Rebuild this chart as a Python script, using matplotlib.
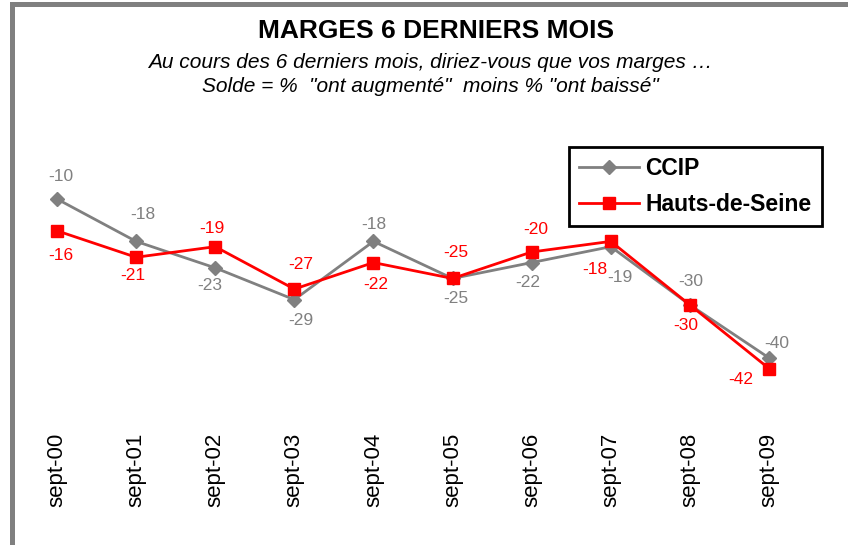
import matplotlib
matplotlib.use("Agg")
import matplotlib.pyplot as plt
from matplotlib.patches import Rectangle

# ---- data ----
mois = ["sept-00", "sept-01", "sept-02", "sept-03", "sept-04",
        "sept-05", "sept-06", "sept-07", "sept-08", "sept-09"]
ccip = [-10, -18, -23, -29, -18, -25, -22, -19, -30, -40]
hauts_de_seine = [-16, -21, -19, -27, -22, -25, -20, -18, -30, -42]

# label offsets (pixels) from each point
ccip_off = [(4, 22), (7, 27), (-5, -18), (6, -21), (0, 17),
            (3, -20), (-4, -20), (9, -31), (1, 23), (8, 14)]
hds_off = [(4, -25), (-3, -18), (-3, 18), (6, 25), (2, -22),
           (3, 26), (4, 22), (-16, -28), (-4, -21), (-28, -11)]

GREY = "#808080"
RED = "#FF0000"

plt.rcParams["font.family"] = ["Liberation Sans", "DejaVu Sans"]

W, H = 848, 545
fig = plt.figure(figsize=(W / 100, H / 100), dpi=100)

# grey frame (left + top)
fig.add_artist(Rectangle((10 / W, 0), 5 / W, 1 - 2 / H,
                         transform=fig.transFigure, color=GREY, lw=0))
fig.add_artist(Rectangle((10 / W, 1 - 7 / H), 1 - 10 / W, 5 / H,
                         transform=fig.transFigure, color=GREY, lw=0))

# axes placed so that 0 -> y=146px and -53.6 -> y=430px
ax = fig.add_axes([17.4 / W, 1 - 430 / H, 791.2 / W, (430 - 146) / H])
ax.set_xlim(-0.5, 9.5)
ax.set_ylim(-53.6, 0)

x = list(range(len(mois)))
ax.plot(x, ccip, color=GREY, lw=2, marker="D", ms=7,
        label="CCIP", zorder=3)
ax.plot(x, hauts_de_seine, color=RED, lw=2, marker="s", ms=8.5,
        label="Hauts-de-Seine", zorder=4)

for i in x:
    ax.annotate(f"{ccip[i]}", (i, ccip[i]), xytext=ccip_off[i],
                textcoords="offset pixels", ha="center", va="center",
                color=GREY, fontsize=12.5)
    ax.annotate(f"{hauts_de_seine[i]}", (i, hauts_de_seine[i]),
                xytext=hds_off[i], textcoords="offset pixels",
                ha="center", va="center", color=RED, fontsize=12.5)

ax.set_xticks(x)
ax.set_xticklabels(mois, rotation=90, fontsize=16, va="top")
ax.tick_params(axis="x", length=0, pad=2)
ax.set_yticks([])
for s in ax.spines.values():
    s.set_visible(False)

leg = ax.legend(loc="upper right", bbox_to_anchor=(822 / W, 1 - 147 / H),
                bbox_transform=fig.transFigure,
                prop={"weight": "bold", "size": 16.5},
                frameon=True, fancybox=False, framealpha=1, borderpad=0.45,
                handlelength=2.6, handletextpad=0.3, labelspacing=0.55,
                borderaxespad=0)
leg.get_frame().set_edgecolor("black")
leg.get_frame().set_linewidth(2)

fig.text(436 / W, 1 - 31 / H, "MARGES 6 DERNIERS MOIS", ha="center",
         va="center", fontsize=19, fontweight="bold")
fig.text(430 / W, 1 - 68 / H,
         "Au cours des 6 derniers mois, diriez-vous que vos marges \u2026",
         ha="center", va="baseline", fontsize=15, style="italic")
fig.text(430 / W, 1 - 92 / H,
         "Solde = %  \"ont augment\u00e9\"  moins % \"ont baiss\u00e9\"",
         ha="center", va="baseline", fontsize=15, style="italic")

fig.savefig("out.png", dpi=100)
